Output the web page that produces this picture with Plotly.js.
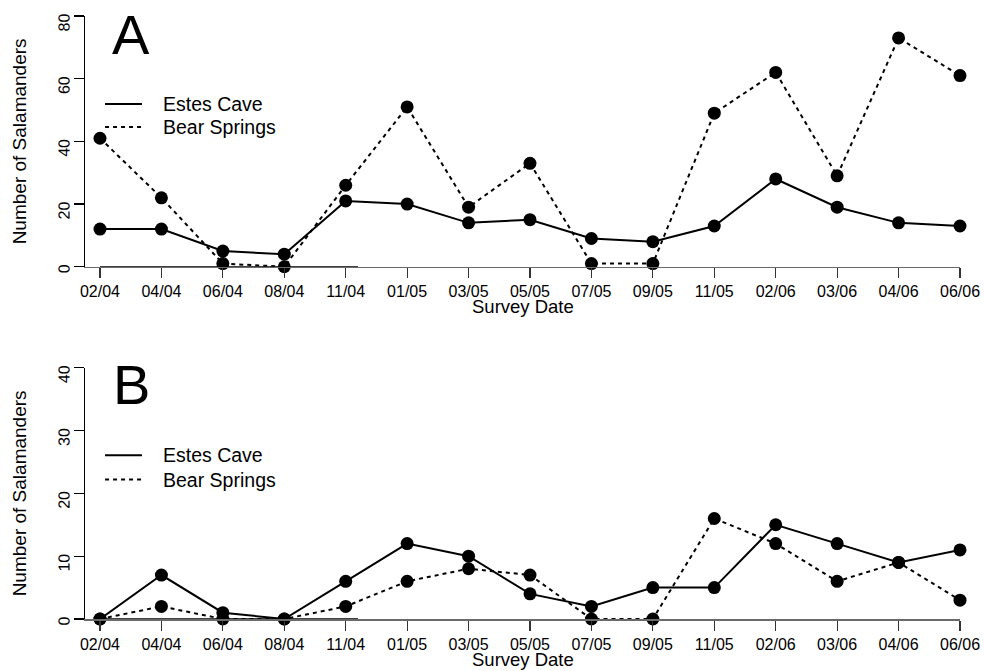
<!DOCTYPE html>
<html>
<head>
<meta charset="utf-8">
<script src="https://cdn.plot.ly/plotly-3.0.1.min.js"></script>
<style>
  html, body { margin: 0; padding: 0; background: #fff; }
  #chart { width: 984px; height: 671px; }
</style>
</head>
<body>
<div id="chart"></div>
<script>
// ---- Data ----
const surveyDates = ['02/04','04/04','06/04','08/04','11/04','01/05','03/05','05/05','07/05','09/05','11/05','02/06','03/06','04/06','06/06'];
const seriesNames = ['Estes Cave', 'Bear Springs'];
const panelLabels = ['A', 'B'];
// Panel A
const estesA = [12, 12, 5, 4, 21, 20, 14, 15, 9, 8, 13, 28, 19, 14, 13];
const bearA  = [41, 22, 1, 0, 26, 51, 19, 33, 1, 1, 49, 62, 29, 73, 61];
// Panel B
const estesB = [0, 7, 1, 0, 6, 12, 10, 4, 2, 5, 5, 15, 12, 9, 11];
const bearB  = [0, 2, 0, 0, 2, 6, 8, 7, 0, 0, 16, 12, 6, 9, 3];
// Axis ticks
const yTicksA = [0, 20, 40, 60, 80];
const yTicksB = [0, 10, 20, 30, 40];
const xTitle = 'Survey Date';
const yTitle = 'Number of Salamanders';

// ---- Styling ----
const FONT = 'Liberation Sans, Arial, Helvetica, sans-serif';
const lineStyles = ['solid', '4px,4px'];

function makeTrace(y, idx, xa, ya) {
  return {
    x: surveyDates, y: y, xaxis: xa, yaxis: ya,
    type: 'scatter', mode: 'lines+markers', name: seriesNames[idx],
    line: { color: '#000', width: 2, dash: lineStyles[idx] },
    marker: { color: '#000', size: 13, symbol: 'circle' },
    cliponaxis: false, showlegend: false
  };
}

const traces = [
  makeTrace(estesA, 0, 'x', 'y'),
  makeTrace(bearA, 1, 'x', 'y'),
  makeTrace(estesB, 0, 'x2', 'y2'),
  makeTrace(bearB, 1, 'x2', 'y2')
];

const xRange = [-0.244, surveyDates.length - 1];

function xAxis(anchor) {
  return {
    type: 'category', categoryarray: surveyDates, range: xRange, anchor: anchor,
    domain: [0, 1], showgrid: false, zeroline: false,
    showline: true, linecolor: '#6a6a6a', linewidth: 1.5,
    ticks: 'outside', ticklen: 10, tickwidth: 1.2, tickcolor: '#333',
    tickfont: { family: FONT, size: 16, color: '#000' },
    automargin: false, fixedrange: true
  };
}
function yAxis(anchor, domain, ticks) {
  return {
    anchor: anchor, domain: domain, range: [ticks[0], ticks[ticks.length - 1]],
    tickmode: 'array', tickvals: ticks, ticktext: ticks.map(String),
    tickangle: -89.9, ticklabelstandoff: 9, showgrid: false, zeroline: false,
    showline: true, linecolor: '#000', linewidth: 1.2,
    ticks: 'outside', ticklen: 10, tickwidth: 1.2, tickcolor: '#000',
    tickfont: { family: FONT, size: 16, color: '#000' },
    automargin: false, fixedrange: true
  };
}

const domA = [0.5842, 1];
const domB = [0, 0.4167];

const shapes = [];
const annotations = [];
[['x', 'y', 0.649, 0.557, 0.926], ['x2', 'y2', 0.652, 0.555, 0.933]].forEach(function (p, k) {
  const xd = p[0] + ' domain', yd = p[1] + ' domain';
  // darker segment of the x axis baseline
  shapes.push({ type: 'line', xref: p[0], yref: p[1], x0: 0, x1: 4.2, y0: 0, y1: 0,
                line: { color: '#000', width: 1.5 } });
  // legend samples
  [p[2], p[3]].forEach(function (yy, i) {
    shapes.push({ type: 'line', xref: xd, yref: yd, x0: 0.0229, x1: 0.0651, y0: yy, y1: yy,
                  line: { color: '#000', width: 2, dash: lineStyles[i] } });
    annotations.push({ xref: xd, yref: yd, x: 0.0869, y: yy, xanchor: 'left', yanchor: 'middle',
                       text: seriesNames[i], showarrow: false,
                       font: { family: FONT, size: 19.5, color: '#000' } });
  });
  // panel letter
  annotations.push({ xref: xd, yref: yd, x: 0.0526, y: p[4],
                     xanchor: 'center', yanchor: 'middle', text: panelLabels[k], showarrow: false,
                     font: { family: FONT, size: 56, color: '#000' } });
  // axis titles
  annotations.push({ xref: xd, yref: yd, x: 0.5, y: 0, yshift: -40, xanchor: 'center', yanchor: 'middle',
                     text: xTitle, showarrow: false,
                     font: { family: FONT, size: 18.5, color: '#000' } });
  annotations.push({ xref: xd, yref: yd, x: 0, y: 0.5, xshift: -66, xanchor: 'center', yanchor: 'middle',
                     textangle: -90, text: yTitle, showarrow: false,
                     font: { family: FONT, size: 19, color: '#000' } });
});

const layout = {
  width: 984, height: 671,
  margin: { l: 85, r: 24, t: 16, b: 52, pad: 0 },
  paper_bgcolor: '#fff', plot_bgcolor: '#fff',
  font: { family: FONT, color: '#000' },
  showlegend: false,
  xaxis: xAxis('y'), yaxis: yAxis('x', domA, yTicksA),
  xaxis2: xAxis('y2'), yaxis2: yAxis('x2', domB, yTicksB),
  shapes: shapes, annotations: annotations
};

Plotly.newPlot('chart', traces, layout, { displayModeBar: false, staticPlot: true });
</script>
</body>
</html>
